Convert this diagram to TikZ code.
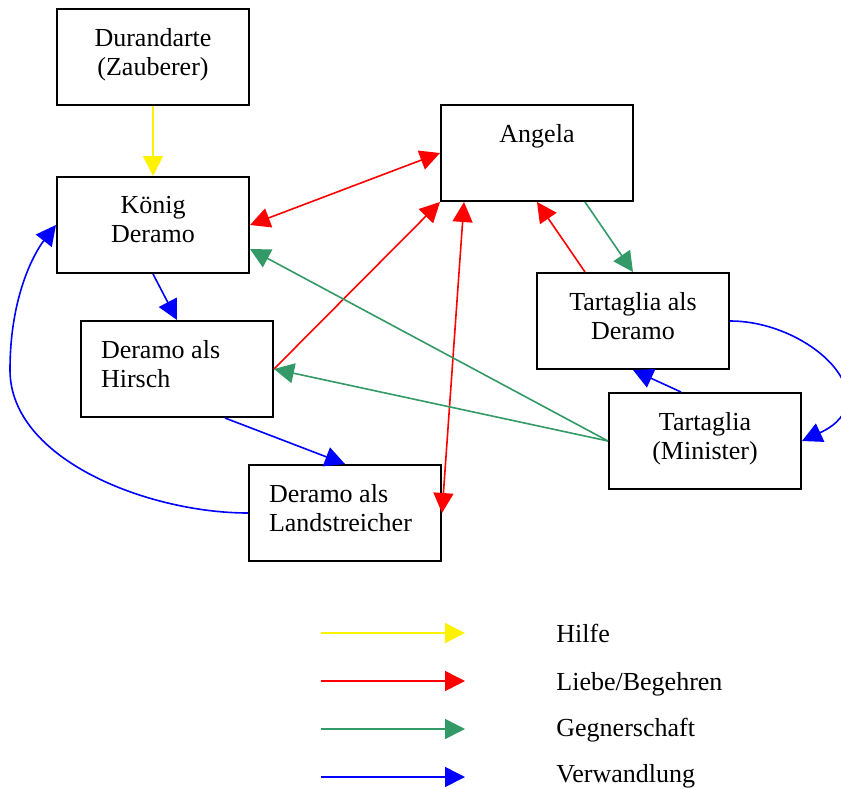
\documentclass[tikz,border=0pt]{standalone}
\usepackage{fontspec}
\setmainfont{Liberation Serif}
\usetikzlibrary{arrows.meta}
\definecolor{gegnergruen}{RGB}{51,153,102}

\begin{document}
\begin{tikzpicture}[x=0.5pt,y=-0.5pt,
  figur/.style={draw, line width=1pt, minimum width=96pt, minimum height=48pt, inner sep=0pt,
    execute at begin node={\fontsize{13}{14.5}\selectfont\begin{minipage}[c][29pt][t]{76pt}#1},
    execute at end node={\end{minipage}}},
  figur/.default=\centering,
  pfeil/.style={line width=0.8pt, >={Triangle[length=10pt,width=10pt]}},
  hilfe/.style={pfeil, yellow},
  liebe/.style={pfeil, red},
  gegner/.style={pfeil, gegnergruen},
  wandel/.style={pfeil, blue}]
\useasboundingbox (0,0) rectangle (841,788);
% Figuren
\node[figur] (durandarte) at (153,57) {Durandarte\\(Zauberer)};
\node[figur] (koenig) at (153,225) {K\"onig\\Deramo};
\node[figur] (angela) at (537,153) {Angela};
\node[figur] (tartderamo) at (633,321) {Tartaglia als\\Deramo};
\node[figur=\raggedright] (hirsch) at (177,369) {Deramo als\\Hirsch};
\node[figur] (minister) at (705,441) {Tartaglia\\(Minister)};
\node[figur=\raggedright] (landstr) at (345,513) {Deramo als\\Landstreicher};
% Hilfe
\draw[hilfe,->] (durandarte.south) -- (koenig.north);
% Liebe/Begehren
\draw[liebe,<->] (koenig.east) -- (angela.west);
\draw[liebe,->] (hirsch.east) -- (angela.south west);
\draw[liebe,<->] ([xshift=12pt]angela.south west) -- (landstr.east);
\draw[liebe,->] ([xshift=-24pt]tartderamo.north) -- (angela.south);
% Gegnerschaft
\draw[gegner,->] ([xshift=24pt]angela.south) -- (tartderamo.north);
\draw[gegner,->] (minister.west) -- ([yshift=-12pt]koenig.east);
\draw[gegner,->] (minister.west) -- (hirsch.east);
% Verwandlung
\draw[wandel,->] (koenig.south) -- (hirsch.north);
\draw[wandel,->] ([xshift=24pt]hirsch.south) -- (landstr.north);
\draw[wandel,->] ([xshift=-12pt]minister.north) -- (tartderamo.south);
\draw[wandel,->] (landstr.west) .. controls +(-99,0) and (10,460) .. (10,370)
  .. controls (10,295) and (35,252) .. (koenig.west);
\draw[wandel,->] (tartderamo.east) .. controls +(81,0) and +(89,-41) .. (minister.east);
% Legende
\foreach \art/\bez/\y/\b [count=\i] in {hilfe/Hilfe/633/642, liebe/{Liebe/Begehren}/681/690,
    gegner/Gegnerschaft/729/736, wandel/Verwandlung/777/782} {
  \coordinate (leg\i a) at (321,\y);
  \coordinate (leg\i b) at (465,\y);
  \draw[\art,->] (leg\i a) -- (leg\i b);
  \node[anchor=base west, inner sep=0pt, font=\fontsize{13}{14.5}\selectfont] (legtext\i) at (556,\b) {\bez};
}
\end{tikzpicture}
\end{document}
